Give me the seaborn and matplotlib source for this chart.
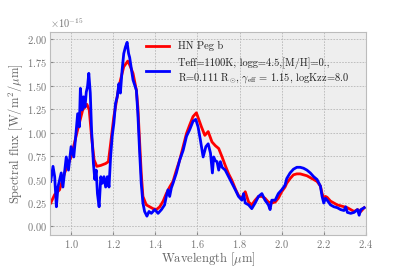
import numpy as np
import pandas as pd
import matplotlib
matplotlib.use("Agg")
import matplotlib.pyplot as plt
import seaborn as sns

# observed spectrum (HN Peg b), flux in units of 1e-15 W/m2/um
wl_obs = [0.903, 0.922, 0.945, 0.969, 1.0, 1.031, 1.055, 1.075, 1.086, 1.097,
          1.109, 1.122, 1.141, 1.164, 1.177, 1.1875, 1.203, 1.227, 1.25, 1.269,
          1.278, 1.294, 1.310, 1.317, 1.325, 1.333, 1.341, 1.357, 1.373, 1.389,
          1.405, 1.421, 1.437, 1.452, 1.468, 1.484, 1.500, 1.516, 1.532, 1.548,
          1.563, 1.579, 1.595, 1.603, 1.619, 1.635, 1.651,
          1.669, 1.685, 1.701, 1.717, 1.732, 1.748, 1.764, 1.780, 1.795, 1.811,
          1.827, 1.843, 1.858, 1.874, 1.890, 1.906, 1.921, 1.937, 1.953, 1.969,
          1.984, 2.0, 2.016,
          2.024, 2.040, 2.056, 2.072, 2.088, 2.104, 2.12, 2.136, 2.152, 2.168,
          2.184, 2.192, 2.2, 2.208, 2.216, 2.232, 2.248, 2.264, 2.28, 2.296,
          2.312, 2.328, 2.344, 2.36, 2.376, 2.392]
flux_obs = [0.25, 0.34, 0.39, 0.57, 0.74, 1.03, 1.24, 1.30, 1.24, 0.96,
            0.71, 0.64, 0.65, 0.67, 0.69, 0.88, 1.17, 1.49, 1.70, 1.76,
            1.72, 1.63, 1.45, 1.27, 0.92, 0.57, 0.32, 0.23, 0.21, 0.19,
            0.18, 0.21, 0.27, 0.35, 0.42, 0.48, 0.60, 0.71, 0.85, 0.99,
            1.08, 1.17, 1.21, 1.16, 1.06, 0.97, 1.01,
            0.90, 0.86, 0.83, 0.74, 0.65, 0.56, 0.49, 0.40, 0.33, 0.30,
            0.37, 0.26, 0.23, 0.28, 0.32, 0.32, 0.30, 0.26, 0.25, 0.26,
            0.30, 0.37, 0.42,
            0.46, 0.51, 0.55, 0.56, 0.56, 0.55, 0.54, 0.52, 0.50, 0.48,
            0.43, 0.35, 0.30, 0.32, 0.31, 0.27, 0.25, 0.23, 0.22, 0.21,
            0.20, 0.18, 0.16, 0.18, 0.16, 0.20]

# model spectrum
wl_mod = [0.903, 0.914, 0.922, 0.930, 0.9375, 0.953, 0.961, 0.977, 0.9875, 1.0,
          1.0125, 1.023, 1.031, 1.039, 1.044, 1.052, 1.059, 1.066, 1.072, 1.078,
          1.084, 1.091, 1.097, 1.106, 1.1125, 1.119, 1.125, 1.133, 1.141, 1.148,
          1.156, 1.164, 1.172, 1.180, 1.1875, 1.195, 1.203, 1.211, 1.219, 1.227,
          1.234, 1.242, 1.25, 1.258, 1.266, 1.273,
          1.278, 1.294, 1.310, 1.317, 1.325, 1.333, 1.341, 1.349, 1.360, 1.370,
          1.381, 1.397, 1.413, 1.429, 1.444, 1.452, 1.460, 1.468, 1.476, 1.484,
          1.500, 1.516, 1.532, 1.548, 1.563, 1.579, 1.592, 1.603, 1.614, 1.627,
          1.640, 1.651, 1.662, 1.671,
          1.677, 1.685, 1.693, 1.701, 1.709, 1.717, 1.732, 1.748, 1.764, 1.780,
          1.795, 1.811, 1.819, 1.827, 1.843, 1.858, 1.874, 1.890, 1.906, 1.921,
          1.937, 1.945, 1.953, 1.969, 1.984, 2.0, 2.016,
          2.024, 2.040, 2.056, 2.072, 2.088, 2.104, 2.12, 2.136, 2.152, 2.168,
          2.184, 2.192, 2.2, 2.208, 2.216, 2.232, 2.248, 2.264, 2.28, 2.296,
          2.304, 2.312, 2.328, 2.344, 2.36, 2.368, 2.376, 2.392]
flux_mod = [0.48, 0.64, 0.53, 0.21, 0.42, 0.57, 0.42, 0.74, 0.60, 0.85,
            0.74, 0.99, 1.20, 1.06, 1.47, 1.24, 1.38, 1.27, 1.43, 1.49,
            1.63, 1.42, 1.03, 0.67, 0.50, 0.60, 0.35, 0.21, 0.53, 0.46,
            0.53, 0.42, 0.53, 0.42, 0.74, 0.96, 1.10, 1.31, 1.38, 1.52,
            1.42, 1.66, 1.84, 1.91, 1.96, 1.84,
            1.80, 1.56, 1.45, 1.20, 0.81, 0.46, 0.25, 0.16, 0.11, 0.16,
            0.14, 0.18, 0.14, 0.18, 0.23, 0.32, 0.39, 0.32, 0.41, 0.46,
            0.57, 0.71, 0.81, 0.96, 1.03, 1.12, 1.14, 1.06, 0.92, 0.74,
            0.85, 0.88, 0.78, 0.57,
            0.74, 0.70, 0.69, 0.60, 0.69, 0.63, 0.60, 0.53, 0.46, 0.39,
            0.32, 0.28, 0.35, 0.25, 0.23, 0.19, 0.25, 0.32, 0.35, 0.28,
            0.23, 0.18, 0.28, 0.28, 0.35, 0.39, 0.44,
            0.51, 0.57, 0.61, 0.63, 0.63, 0.62, 0.60, 0.57, 0.53, 0.50,
            0.43, 0.32, 0.25, 0.30, 0.28, 0.23, 0.21, 0.20, 0.18, 0.17,
            0.21, 0.15, 0.14, 0.15, 0.18, 0.12, 0.18, 0.20]

label_obs = "HN Peg b"
label_mod = ("Teff=1100K, logg=4.5,[M/H]=0.,\n"
             r"R=0.111 R$_{\odot}$, $\gamma_{\rm eff}$ = 1.15, logKzz=8.0")

plt.style.use("bmh")
plt.rcParams["font.family"] = ["cmr10", "DejaVu Serif"]
plt.rcParams["mathtext.fontset"] = "cm"
plt.rcParams["axes.formatter.use_mathtext"] = True
plt.rcParams["axes.unicode_minus"] = False

df_obs = pd.DataFrame({"wl": wl_obs, "flux": np.array(flux_obs) * 1e-15})
df_mod = pd.DataFrame({"wl": wl_mod, "flux": np.array(flux_mod) * 1e-15})

fig, ax = plt.subplots(figsize=(4.07, 2.71), dpi=100)
fig.subplots_adjust(left=0.123, right=0.899, bottom=0.133, top=0.882)

sns.lineplot(data=df_obs, x="wl", y="flux", color="red", lw=2.0,
             sort=False, estimator=None, label=label_obs, ax=ax)
sns.lineplot(data=df_mod, x="wl", y="flux", color="blue", lw=2.0,
             sort=False, estimator=None, label=label_mod, ax=ax)

ax.set_xlim(0.9, 2.4)
ax.set_ylim(-0.09e-15, 2.07e-15)
ax.set_xticks([1.0, 1.2, 1.4, 1.6, 1.8, 2.0, 2.2, 2.4])
ax.set_yticks(np.arange(0, 2.01, 0.25) * 1e-15)

ax.set_facecolor("#eeeeee")
for s in ax.spines.values():
    s.set_color("#bcbcbc")
ax.grid(True, color="#b8b8b8", linestyle=(0, (2, 1.5)), linewidth=0.6)
ax.tick_params(labelsize=7.5, colors="#888888", labelcolor="#777777", length=2, pad=2.5)
ax.yaxis.get_offset_text().set_fontsize(7.5)
ax.yaxis.get_offset_text().set_color("#777777")

ax.set_xlabel(r"Wavelength [$\mu$m]", fontsize=9, color="#666666", labelpad=0)
ax.set_ylabel(r"Spectral flux [W/m$^2$/$\mu$m]", fontsize=9, color="#666666", labelpad=1)

leg = ax.legend(loc="upper right", bbox_to_anchor=(0.975, 1.0), fontsize=7.5,
                frameon=False, handlelength=2.2, borderaxespad=0.5, labelspacing=0.6)
for t in leg.get_texts():
    t.set_color("#222222")

fig.savefig("out.png", dpi=100)
